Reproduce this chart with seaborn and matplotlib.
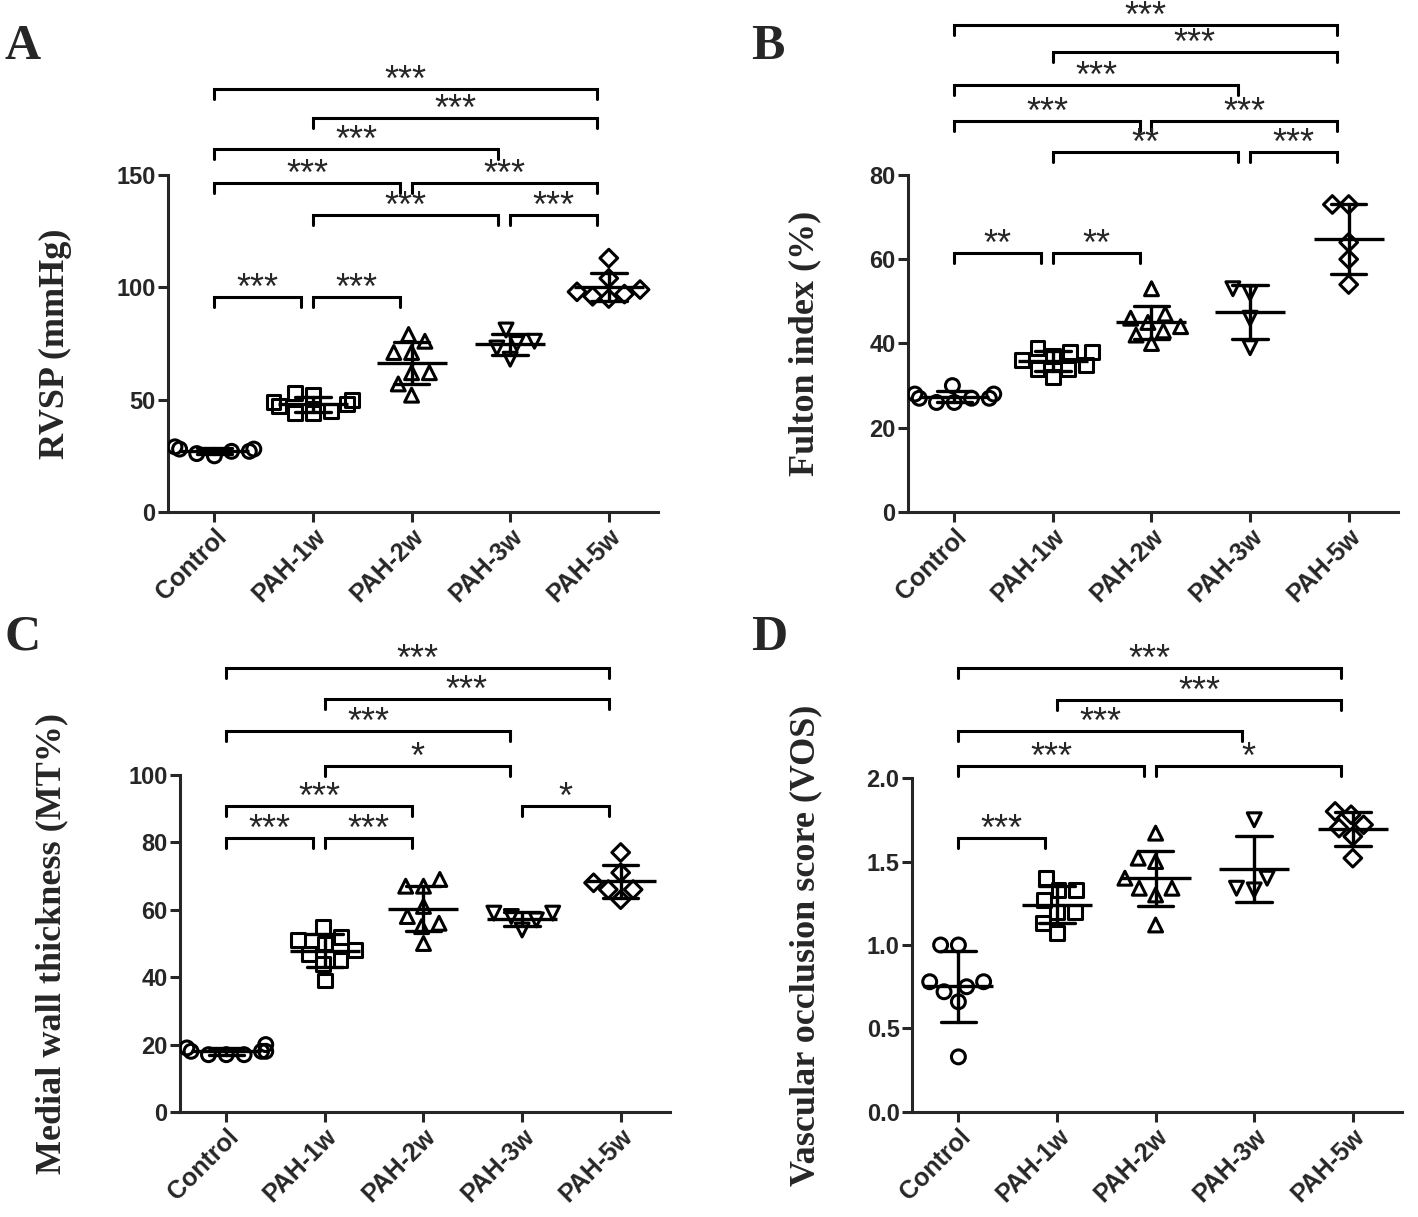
import warnings
import numpy as np
import pandas as pd
import matplotlib
matplotlib.use("Agg")
import matplotlib.pyplot as plt
import seaborn as sns

warnings.filterwarnings("ignore")

groups = ["Control", "PAH-1w", "PAH-2w", "PAH-3w", "PAH-5w"]
markers = ["o", "s", "^", "v", "D"]

# A - RVSP (mmHg)
rvsp_ctrl = [28, 27, 25, 26, 28, 29, 27]
rvsp_1w = [52, 53, 50, 47, 49, 44, 44, 45, 48]
rvsp_2w = [79, 76, 71, 71, 62, 62, 57, 52]
rvsp_3w = [81, 76, 75, 73, 68]
rvsp_5w = [113, 104, 99, 97, 96, 98, 95]

# B - Fulton index (%)
fulton_ctrl = [30, 28, 28, 27, 26, 26, 27, 27]
fulton_1w = [38, 39, 37, 36, 35, 34, 34, 32, 38]
fulton_2w = [53, 47, 46, 45, 44, 43, 42, 40]
fulton_3w = [53, 52, 46, 39]
fulton_5w = [73, 73, 64, 60, 54]

# C - medial wall thickness (MT%)
mt_ctrl = [18, 17, 18, 19, 17, 18, 20, 17]
mt_1w = [55, 52, 51, 50, 48, 47, 45, 44, 39]
mt_2w = [69, 67, 67, 61, 58, 56, 55, 50]
mt_3w = [59, 59, 58, 57, 54]
mt_5w = [77, 71, 68, 66, 63, 66]

# D - vascular occlusion score (VOS)
vos_ctrl = [1.0, 1.0, 0.78, 0.78, 0.72, 0.75, 0.66, 0.33]
vos_1w = [1.40, 1.33, 1.33, 1.27, 1.20, 1.20, 1.13, 1.07]
vos_2w = [1.67, 1.52, 1.50, 1.40, 1.34, 1.34, 1.30, 1.12]
vos_3w = [1.75, 1.40, 1.34, 1.33]
vos_5w = [1.80, 1.78, 1.72, 1.70, 1.65, 1.52]

# significance brackets: (group i, group j, height, stars)
sig_rvsp = [(0, 4, 188.3, "***"), (1, 4, 175.3, "***"), (0, 3, 161.5, "***"),
            (0, 2, 146.4, "***"), (2, 4, 146.4, "***"), (1, 3, 132.2, "***"),
            (3, 4, 132.2, "***"), (0, 1, 95.7, "***"), (1, 2, 95.7, "***")]
sig_fulton = [(0, 4, 115.6, "***"), (1, 4, 109.2, "***"), (0, 3, 101.4, "***"),
              (0, 2, 92.8, "***"), (2, 4, 92.8, "***"), (1, 3, 85.5, "**"),
              (3, 4, 85.5, "***"), (0, 1, 61.5, "**"), (1, 2, 61.5, "**")]
sig_mt = [(0, 4, 131.8, "***"), (1, 4, 122.6, "***"), (0, 3, 113.1, "***"),
          (1, 3, 102.7, "*"), (0, 2, 90.8, "***"), (3, 4, 90.8, "*"),
          (0, 1, 81.3, "***"), (1, 2, 81.3, "***")]
sig_vos = [(0, 4, 2.66, "***"), (1, 4, 2.47, "***"), (0, 3, 2.28, "***"),
           (0, 2, 2.07, "***"), (2, 4, 2.07, "*"), (0, 1, 1.64, "***")]

sns.set_style("ticks")
plt.rcParams["font.family"] = ["Liberation Sans", "DejaVu Sans"]
plt.rcParams["font.weight"] = "bold"
plt.rcParams["axes.linewidth"] = 2.2


def make_df(vals):
    return pd.DataFrame({
        "group": np.repeat(groups, [len(v) for v in vals]),
        "value": np.concatenate(vals),
    })


def panel(ax, df, ymax, yticks, ylabel, sig, labx, fmt="{:g}"):
    for g, m in zip(groups, markers):
        sub = df[df.group == g]
        sz = 9 if m == "D" else 10
        sns.swarmplot(data=sub, x="group", y="value", order=groups, marker=m,
                      size=sz, color="white", edgecolor="black", linewidth=2.2,
                      ax=ax)
    for c in ax.collections:
        c.set_facecolor("none")
    sns.pointplot(data=df, x="group", y="value", order=groups, errorbar="sd",
                  color="black", markers="_", markersize=50, markeredgewidth=2.4,
                  linestyle="none", capsize=0.36, err_kws={"linewidth": 2.4},
                  ax=ax)
    ax.set_xlim(-0.47, 4.5)
    ax.set_ylim(0, ymax)
    ax.set_yticks(yticks)
    ax.set_yticklabels([fmt.format(t) for t in yticks])
    ax.set_xlabel("")
    ax.set_ylabel(ylabel, family="Liberation Serif", fontweight="bold", fontsize=26)
    ax.yaxis.set_label_coords(labx, 0.5)
    sns.despine(ax=ax)
    ax.tick_params(direction="out", length=7, width=2.2, labelsize=17, pad=2)
    ax.tick_params(axis="x", labelsize=18)
    plt.setp(ax.get_xticklabels(), rotation=45, ha="right", rotation_mode="anchor")

    d = 0.03 * ymax
    for i, j, h, s in sig:
        x0, x1 = i, j - 0.12
        ax.plot([x0, x0, x1, x1], [h - d, h, h, h - d], color="black", lw=2.2,
                clip_on=False, solid_joinstyle="miter")
        ax.text((x0 + x1) / 2, h - 0.006 * ymax, s, ha="center", va="baseline",
                fontsize=26, fontweight="normal")


fig = plt.figure(figsize=(14.18, 12.17), dpi=100)
axA = fig.add_axes([0.1185, 0.5793, 0.3456, 0.2769])
axB = fig.add_axes([0.6403, 0.5793, 0.3456, 0.2769])
axC = fig.add_axes([0.1269, 0.0863, 0.3456, 0.2769])
axD = fig.add_axes([0.6432, 0.0863, 0.3456, 0.2744])

panel(axA, make_df([rvsp_ctrl, rvsp_1w, rvsp_2w, rvsp_3w, rvsp_5w]), 150,
      [0, 50, 100, 150], "RVSP (mmHg)", sig_rvsp, -0.196)
panel(axB, make_df([fulton_ctrl, fulton_1w, fulton_2w, fulton_3w, fulton_5w]), 80,
      [0, 20, 40, 60, 80], "Fulton index (%)", sig_fulton, -0.176)
panel(axC, make_df([mt_ctrl, mt_1w, mt_2w, mt_3w, mt_5w]), 100,
      [0, 20, 40, 60, 80, 100], "Medial wall thickness (MT%)", sig_mt, -0.227)
panel(axD, make_df([vos_ctrl, vos_1w, vos_2w, vos_3w, vos_5w]), 2.0,
      [0, 0.5, 1.0, 1.5, 2.0], "Vascular occlusion score (VOS)", sig_vos, -0.184,
      fmt="{:.1f}")

for lab, x, y in [("A", 0.003, 0.98), ("B", 0.53, 0.98), ("C", 0.003, 0.495), ("D", 0.53, 0.495)]:
    fig.text(x, y, lab, family="Liberation Serif", fontweight="bold", fontsize=36, va="top")

plt.savefig("out.png", dpi=100)
